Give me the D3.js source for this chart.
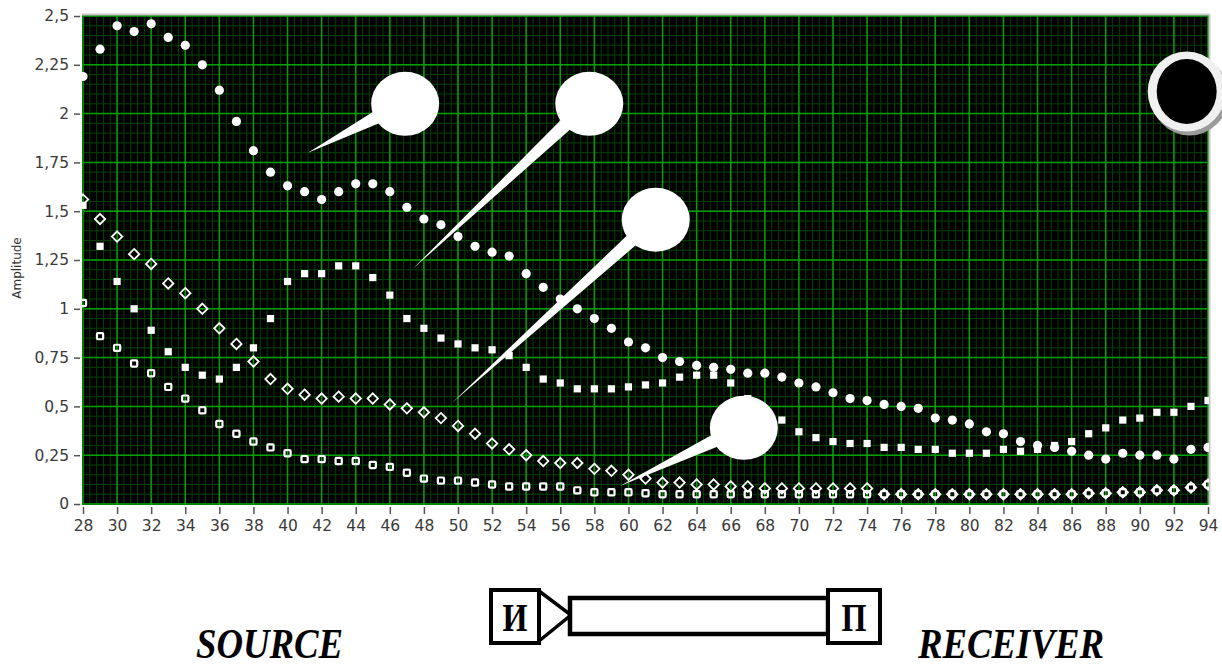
<!DOCTYPE html>
<html><head><meta charset="utf-8">
<script src="https://cdn.jsdelivr.net/npm/d3@7"></script>
<style>html,body{margin:0;padding:0;background:#fff;}svg{display:block}</style>
</head><body>
<svg id="c" width="1222" height="668"></svg>
<script>
// ---------- data ----------
const xValues = [28,29,30,31,32,33,34,35,36,37,38,39,40,41,42,43,44,45,46,47,48,49,50,51,52,53,54,55,56,57,58,59,60,61,62,63,64,65,66,67,68,69,70,71,72,73,74,75,76,77,78,79,80,81,82,83,84,85,86,87,88,89,90,91,92,93,94];
// filled circles
const seriesA = [2.19,2.33,2.45,2.42,2.46,2.39,2.35,2.25,2.12,1.96,
  1.81,1.70,1.63,1.60,1.56,1.60,1.64,1.64,1.60,1.52,
  1.46,1.43,1.37,1.32,1.29,1.27,1.18,1.11,1.05,1.00,
  0.95,0.90,0.83,0.80,0.75,0.73,0.71,0.70,0.69,0.67,
  0.67,0.65,0.62,0.60,0.57,0.54,0.53,0.51,0.50,0.49,
  0.44,0.43,0.41,0.37,0.36,0.32,0.30,0.29,0.27,0.25,
  0.23,0.26,0.25,0.25,0.23,0.28,0.29];
// filled squares
const seriesB = [1.53,1.32,1.14,1.00,0.89,0.78,0.70,0.66,0.64,0.70,
  0.80,0.95,1.14,1.18,1.18,1.22,1.22,1.16,1.07,0.95,
  0.90,0.85,0.82,0.80,0.79,0.76,0.70,0.64,0.62,0.59,
  0.59,0.59,0.60,0.61,0.62,0.65,0.66,0.66,0.62,0.54,
  0.47,0.43,0.37,0.34,0.32,0.31,0.31,0.29,0.29,0.28,
  0.28,0.26,0.26,0.26,0.28,0.27,0.28,0.30,0.32,0.36,
  0.39,0.43,0.44,0.47,0.47,0.50,0.53];
// hollow diamonds
const seriesC = [1.56,1.46,1.37,1.28,1.23,1.13,1.08,1.00,0.90,0.82,
  0.73,0.64,0.59,0.56,0.54,0.55,0.54,0.54,0.51,0.49,
  0.47,0.44,0.40,0.36,0.31,0.28,0.25,0.22,0.21,0.21,
  0.18,0.17,0.15,0.13,0.11,0.11,0.10,0.10,0.09,0.09,
  0.08,0.08,0.08,0.08,0.08,0.08,0.08,0.05,0.05,0.05,
  0.05,0.05,0.05,0.05,0.05,0.05,0.05,0.05,0.05,0.055,
  0.055,0.06,0.06,0.07,0.07,0.085,0.10];
// hollow squares
const seriesD = [1.03,0.86,0.80,0.72,0.67,0.60,0.54,0.48,0.41,0.36,
  0.32,0.29,0.26,0.23,0.23,0.22,0.22,0.20,0.19,0.16,
  0.13,0.12,0.12,0.11,0.10,0.09,0.09,0.09,0.09,0.07,
  0.06,0.06,0.06,0.055,0.05,0.05,0.05,0.05,0.05,0.05,
  0.05,0.05,0.05,0.05,0.05,0.05,0.05,0.05,0.05,0.05,
  0.05,0.05,0.05,0.05,0.05,0.05,0.05,0.05,0.05,0.055,
  0.055,0.06,0.06,0.07,0.07,0.085,0.10];

const xTicks = [28,30,32,34,36,38,40,42,44,46,48,50,52,54,56,58,60,62,64,66,68,70,72,74,76,78,80,82,84,86,88,90,92,94];
const yTicks = [0,0.25,0.5,0.75,1,1.25,1.5,1.75,2,2.25,2.5];
const yTickLabels = ["0","0,25","0,5","0,75","1","1,25","1,5","1,75","2","2,25","2,5"];
const yAxisTitle = "Amplitude";

// callout bubbles (centre and pointer tip, in data units)
const callouts = [
  {cx:46.9, cy:2.05, tx:41.2, ty:1.80},
  {cx:57.7, cy:2.05, tx:47.35, ty:1.205},
  {cx:61.6, cy:1.456, tx:49.64, ty:0.518},
  {cx:66.77, cy:0.39, tx:59.5, ty:0.092}
];
const blackDot = {cx:92.75, cy:2.113};

const diagramLeft = "И", diagramRight = "П";
const sourceLabel = "SOURCE", receiverLabel = "RECEIVER";

// ---------- layout ----------
const svg = d3.select('#c');
const X0 = 82, X1 = 1209, Y0 = 15, Y1 = 505;
const x = d3.scaleLinear().domain([28,94]).range([83,1208]);
const y = d3.scaleLinear().domain([0,2.5]).range([504,16]);

svg.append('defs').append('clipPath').attr('id','clip')
  .append('rect').attr('x',X0).attr('y',Y0).attr('width',X1-X0).attr('height',Y1-Y0);

svg.append('rect').attr('x',X0).attr('y',Y0).attr('width',X1-X0).attr('height',Y1-Y0).attr('fill','#000');

const grid = svg.append('g').attr('clip-path','url(#clip)');
const minorX = d3.range(0, 66*5/2+1).map(i => 28 + i*0.4);
const minorY = d3.range(0, 51).map(i => i*0.05);
grid.selectAll('.mx').data(minorX).join('line')
  .attr('x1',d=>x(d)).attr('x2',d=>x(d)).attr('y1',Y0).attr('y2',Y1)
  .attr('stroke','#004200').attr('stroke-width',1);
grid.selectAll('.my').data(minorY).join('line')
  .attr('y1',d=>y(d)).attr('y2',d=>y(d)).attr('x1',X0).attr('x2',X1)
  .attr('stroke','#004200').attr('stroke-width',1);
grid.selectAll('.Mx').data(xTicks).join('line')
  .attr('x1',d=>x(d)).attr('x2',d=>x(d)).attr('y1',Y0).attr('y2',Y1)
  .attr('stroke','#00a000').attr('stroke-width',1.5);
grid.selectAll('.My').data(yTicks).join('line')
  .attr('y1',d=>y(d)).attr('y2',d=>y(d)).attr('x1',X0).attr('x2',X1)
  .attr('stroke','#00a000').attr('stroke-width',1.5);

// border
svg.append('line').attr('x1',X0).attr('x2',X1+1).attr('y1',Y0-0.5).attr('y2',Y0-0.5).attr('stroke','#c8c8c8').attr('stroke-width',2);
svg.append('line').attr('x1',X1+0.5).attr('x2',X1+0.5).attr('y1',Y0).attr('y2',Y1).attr('stroke','#c8c8c8').attr('stroke-width',2);

// axes
const fontAxis = '"DejaVu Sans", Verdana, sans-serif';
const yAxis = svg.append('g').attr('transform','translate(80,0)')
  .call(d3.axisLeft(y).tickValues(yTicks).tickFormat((d,i)=>yTickLabels[i]).tickSize(6).tickPadding(5));
const xAxis = svg.append('g').attr('transform','translate(0,507)')
  .call(d3.axisBottom(x).tickValues(xTicks).tickFormat(d=>String(d)).tickSize(7).tickPadding(6));
[yAxis,xAxis].forEach(g=>{
  g.select('.domain').remove();
  g.selectAll('line').attr('stroke','#555').attr('stroke-width',1.5);
  g.selectAll('text').attr('fill','#3a3a3a').style('font-family',fontAxis).style('font-size','15.5px');
});
svg.append('text').attr('transform','translate(21,268) rotate(-90)').attr('text-anchor','middle')
  .style('font-family',fontAxis).style('font-size','12px').attr('fill','#333').text(yAxisTitle);

// data markers
const marks = svg.append('g').attr('clip-path','url(#clip)');
const pts = s => xValues.map((xv,i)=>({x:xv, y:s[i]}));
marks.append('g').selectAll('circle').data(pts(seriesA)).join('circle')
  .attr('cx',d=>x(d.x)).attr('cy',d=>y(d.y)).attr('r',4.6).attr('fill','#fff');
marks.append('g').selectAll('rect').data(pts(seriesB)).join('rect')
  .attr('x',d=>x(d.x)-3.6).attr('y',d=>y(d.y)-3.6).attr('width',7.2).attr('height',7.2).attr('fill','#fff');
const dm = 5.2;
marks.append('g').selectAll('path').data(pts(seriesC)).join('path')
  .attr('d',d=>{const cx=x(d.x), cy=y(d.y); return `M${cx},${cy-dm}L${cx+dm},${cy}L${cx},${cy+dm}L${cx-dm},${cy}Z`;})
  .attr('fill','none').attr('stroke','#fff').attr('stroke-width',1.8);
marks.append('g').selectAll('rect').data(pts(seriesD)).join('rect')
  .attr('x',d=>x(d.x)-3.1).attr('y',d=>y(d.y)-3.1).attr('width',6.2).attr('height',6.2).attr('rx',1)
  .attr('fill','none').attr('stroke','#fff').attr('stroke-width',2.2);

// callouts
const RX = 34, RY = 32, delta = 0.2;
const cg = svg.append('g');
callouts.forEach(c=>{
  const cx = x(c.cx), cy = y(c.cy), tx = x(c.tx), ty = y(c.ty);
  const th = Math.atan2(ty-cy, tx-cx);
  const p1 = [cx+RX*Math.cos(th+delta), cy+RY*Math.sin(th+delta)];
  const p2 = [cx+RX*Math.cos(th-delta), cy+RY*Math.sin(th-delta)];
  cg.append('path').attr('d',`M${tx},${ty}L${p1[0]},${p1[1]}L${cx},${cy}L${p2[0]},${p2[1]}Z`).attr('fill','#fff');
  cg.append('ellipse').attr('cx',cx).attr('cy',cy).attr('rx',RX).attr('ry',RY).attr('fill','#fff');
});
{
  const cx = x(blackDot.cx), cy = y(blackDot.cy);
  cg.append('ellipse').attr('cx',cx+3).attr('cy',cy+4).attr('rx',39).attr('ry',40).attr('fill','#9a9a9a');
  cg.append('ellipse').attr('cx',cx).attr('cy',cy).attr('rx',39).attr('ry',40).attr('fill','#f0f0f0');
  cg.append('ellipse').attr('cx',cx).attr('cy',cy).attr('rx',30).attr('ry',32.5).attr('fill','#000');
}

// bottom diagram
const dg = svg.append('g');
const serif = '"Liberation Serif", "Times New Roman", serif';
dg.append('rect').attr('x',491).attr('y',590).attr('width',48).attr('height',53).attr('fill','#fff').attr('stroke','#000').attr('stroke-width',4);
dg.append('path').attr('d','M539,591 L571,615 L539,641').attr('fill','none').attr('stroke','#000').attr('stroke-width',3.5);
dg.append('rect').attr('x',570).attr('y',598).attr('width',258).attr('height',36).attr('fill','#fff').attr('stroke','#000').attr('stroke-width',4.5);
dg.append('rect').attr('x',828).attr('y',590).attr('width',52).attr('height',53).attr('fill','#fff').attr('stroke','#000').attr('stroke-width',4);
dg.append('text').attr('x',515).attr('y',631).attr('text-anchor','middle').attr('textLength',25).attr('lengthAdjust','spacingAndGlyphs')
  .style('font-family',serif).style('font-weight','bold').style('font-size','40px').text(diagramLeft);
dg.append('text').attr('x',854).attr('y',631).attr('text-anchor','middle').attr('textLength',25).attr('lengthAdjust','spacingAndGlyphs')
  .style('font-family',serif).style('font-weight','bold').style('font-size','40px').text(diagramRight);
dg.append('text').attr('x',196).attr('y',658).attr('textLength',147).attr('lengthAdjust','spacingAndGlyphs')
  .style('font-family',serif).style('font-weight','bold').style('font-style','italic').style('font-size','42px').text(sourceLabel);
dg.append('text').attr('x',918).attr('y',658).attr('textLength',186).attr('lengthAdjust','spacingAndGlyphs')
  .style('font-family',serif).style('font-weight','bold').style('font-style','italic').style('font-size','42px').text(receiverLabel);
</script>
</body></html>
